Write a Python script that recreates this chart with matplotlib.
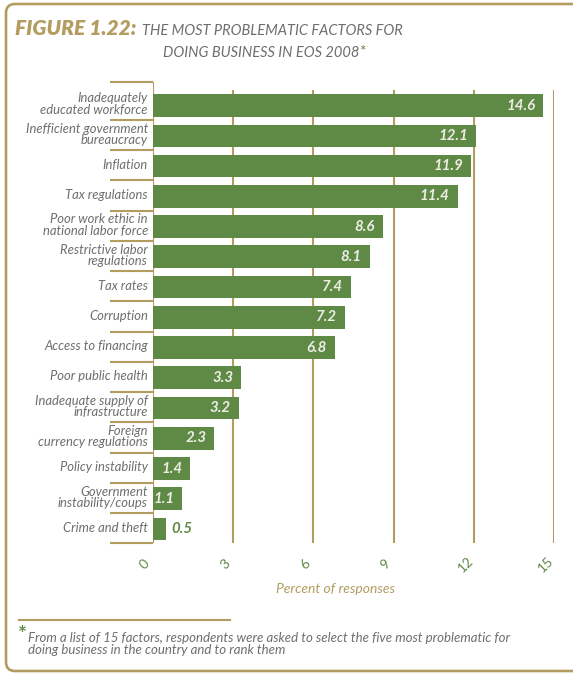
import matplotlib.pyplot as plt
from matplotlib import font_manager
from matplotlib.patches import FancyBboxPatch
from matplotlib.transforms import IdentityTransform

# Survey results: share of responses per factor
factors = [
    "Inadequately\neducated workforce",
    "Inefficient government\nbureaucracy",
    "Inflation",
    "Tax regulations",
    "Poor work ethic in\nnational labor force",
    "Restrictive labor\nregulations",
    "Tax rates",
    "Corruption",
    "Access to financing",
    "Poor public health",
    "Inadequate supply of\ninfrastructure",
    "Foreign\ncurrency regulations",
    "Policy instability",
    "Government\ninstability/coups",
    "Crime and theft",
]
percent = [14.6, 12.1, 11.9, 11.4, 8.6, 8.1, 7.4, 7.2, 6.8, 3.3, 3.2, 2.3, 1.4, 1.1, 0.5]
xticks = [0, 3, 6, 9, 12, 15]

GREEN = '#5F8A46'
GOLD = '#B39C60'
GRAY = '#6E6E6E'
LIGHT = '#EDEDE4'


def pick_font(candidates):
    # first family that ships a regular-weight italic face
    for fam in candidates:
        for f in font_manager.fontManager.ttflist:
            if f.name == fam and f.style == 'italic' and f.weight in (400, 'normal', 'regular'):
                return fam
    return 'DejaVu Sans'


FONT = pick_font(['Lato', 'Noto Sans', 'Open Sans', 'Roboto'])

W, H = 573, 673
fig = plt.figure(figsize=(W / 100, H / 100), dpi=100)


def fx(x):
    return x / W


def fy(y):
    return 1 - y / H


# outer frame, open on the right side
frame = FancyBboxPatch((6, 2), 640, 667, boxstyle='round,pad=0,rounding_size=9',
                       transform=IdentityTransform(), fill=False,
                       edgecolor=GOLD, linewidth=1.9, clip_on=False)
fig.patches.append(frame)

ax = fig.add_axes([fx(153), fy(543), fx(554) - fx(153), (543 - 82) / H])
ymin, ymax = -0.78, 14.46
ax.set_xlim(0, 15)
ax.set_ylim(ymax, ymin)
ax.axis('off')

pos = list(range(len(factors)))

# gridlines behind the bars
ax.vlines(xticks[1:], -0.52, ymax, color=GOLD, linewidth=1.5, zorder=1)
ax.vlines(0, ymin, ymax, color=GOLD, linewidth=1.5, zorder=1)

ax.barh(pos, percent, height=0.75, color=GREEN, zorder=2)

# separators between the category labels
seps = [ymin] + [p + 0.47 for p in pos]
for s in seps:
    ax.plot([-1.6, 0], [s, s], color=GOLD, linewidth=1.5, clip_on=False,
            solid_capstyle='butt', zorder=1)

for p, name, v in zip(pos, factors, percent):
    ax.text(-0.19, p - 0.05, name, ha='right', va='center', fontsize=9.4,
            family=FONT, style='italic', color=GRAY, linespacing=0.92)
    if v >= 1:
        ax.text(v - 0.3, p, f"{v:.1f}", ha='right', va='center', fontsize=10.8,
                family=FONT, style='italic', weight='bold', color=LIGHT, zorder=3)
    else:
        ax.text(v + 0.2, p, f"{v:.1f}", ha='left', va='center', fontsize=10.8,
                family=FONT, style='italic', weight='bold', color=GREEN, zorder=3)

for t in xticks:
    ax.text(t - 0.3, ymax + 0.7, str(t), ha='center', va='center', rotation=45,
            fontsize=10, family=FONT, color=GREEN)

fig.text(fx(336), fy(589), "Percent of responses", ha='center', va='center',
         fontsize=10, family=FONT, style='italic', color=GOLD)

# title
t1 = fig.text(fx(15), fy(35), "FIGURE 1.22:", ha='left', va='baseline', fontsize=15,
              family=FONT, style='italic', weight='heavy', color=GOLD)
ax.annotate("THE MOST PROBLEMATIC FACTORS FOR", xy=(1, 0), xycoords=t1,
            xytext=(4, 0), textcoords='offset points', ha='left', va='bottom',
            fontsize=10.5, family=FONT, style='italic', color=GRAY)
t2 = fig.text(fx(163), fy(57), "DOING BUSINESS IN EOS 2008", ha='left', va='baseline',
              fontsize=10.5, family=FONT, style='italic', color=GRAY)
ax.annotate("*", xy=(1, 1), xycoords=t2, xytext=(0, 1), textcoords='offset points',
            ha='left', va='top', fontsize=11, family=FONT, color=GREEN)

# footnote
fig.add_artist(plt.Line2D([fx(19), fx(230)], [fy(620), fy(620)], color=GOLD, linewidth=1.5))
fig.text(fx(18), fy(641), "*", ha='left', va='baseline', fontsize=15, family=FONT,
         weight='bold', color=GREEN)
fig.text(fx(28), fy(632), "From a list of 15 factors, respondents were asked to select the five most problematic for\n"
         "doing business in the country and to rank them", ha='left', va='top',
         fontsize=9.5, family=FONT, style='italic', color=GRAY, linespacing=1.05)

fig.savefig('out.png', dpi=100, facecolor='white')
